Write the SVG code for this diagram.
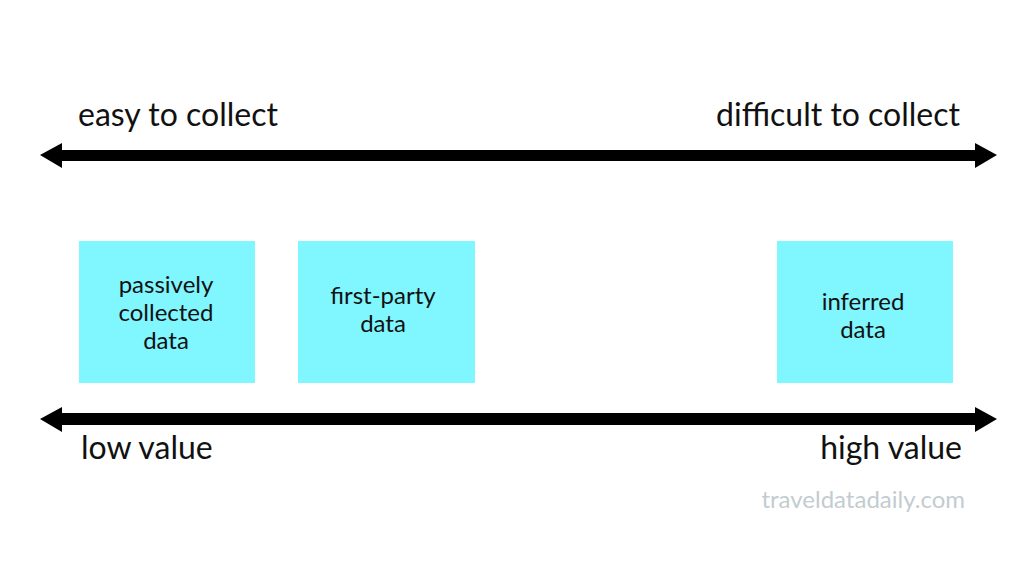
<svg xmlns="http://www.w3.org/2000/svg" width="1024" height="578" viewBox="0 0 1024 578">
<style>
.lbl{font-family:Lato,"Liberation Sans",sans-serif;font-size:32px;fill:#111}
.box{fill:#80F6FF}
.bt{font-family:Lato,"Liberation Sans",sans-serif;font-size:24px;fill:#111;text-anchor:middle}
.wm{font-family:Lato,"Liberation Sans",sans-serif;font-size:24px;fill:#c3ccd0}
.ax{fill:#000}
</style>
<rect width="1024" height="578" fill="#fff"/>
<g id="connectors">
<path class="ax" d="M40 155 L62 143 L62 150 L975 150 L975 143 L997 155 L975 168 L975 161 L62 161 L62 168 Z"/>
<path class="ax" d="M40 419 L62 407 L62 413 L975 413 L975 407 L997 419 L975 432 L975 425 L62 425 L62 432 Z"/>
</g>
<text class="lbl" x="78" y="126">easy to collect</text>
<text class="lbl" x="960" y="126" text-anchor="end">difficult to collect</text>
<text class="lbl" x="81" y="459">low value</text>
<text class="lbl" x="962" y="459" text-anchor="end">high value</text>
<g id="passive">
<rect class="box" x="79" y="241" width="176" height="142"/>
<text class="bt" x="166" y="293">passively</text>
<text class="bt" x="166" y="321">collected</text>
<text class="bt" x="166" y="349">data</text>
</g>
<g id="firstparty">
<rect class="box" x="298" y="241" width="177" height="142"/>
<text class="bt" x="383" y="304">first-party</text>
<text class="bt" x="383" y="332">data</text>
</g>
<g id="inferred">
<rect class="box" x="777" y="241" width="176" height="142"/>
<text class="bt" x="863" y="310">inferred</text>
<text class="bt" x="863" y="338">data</text>
</g>
<text class="wm" x="965" y="508" text-anchor="end">traveldatadaily.com</text>
</svg>
